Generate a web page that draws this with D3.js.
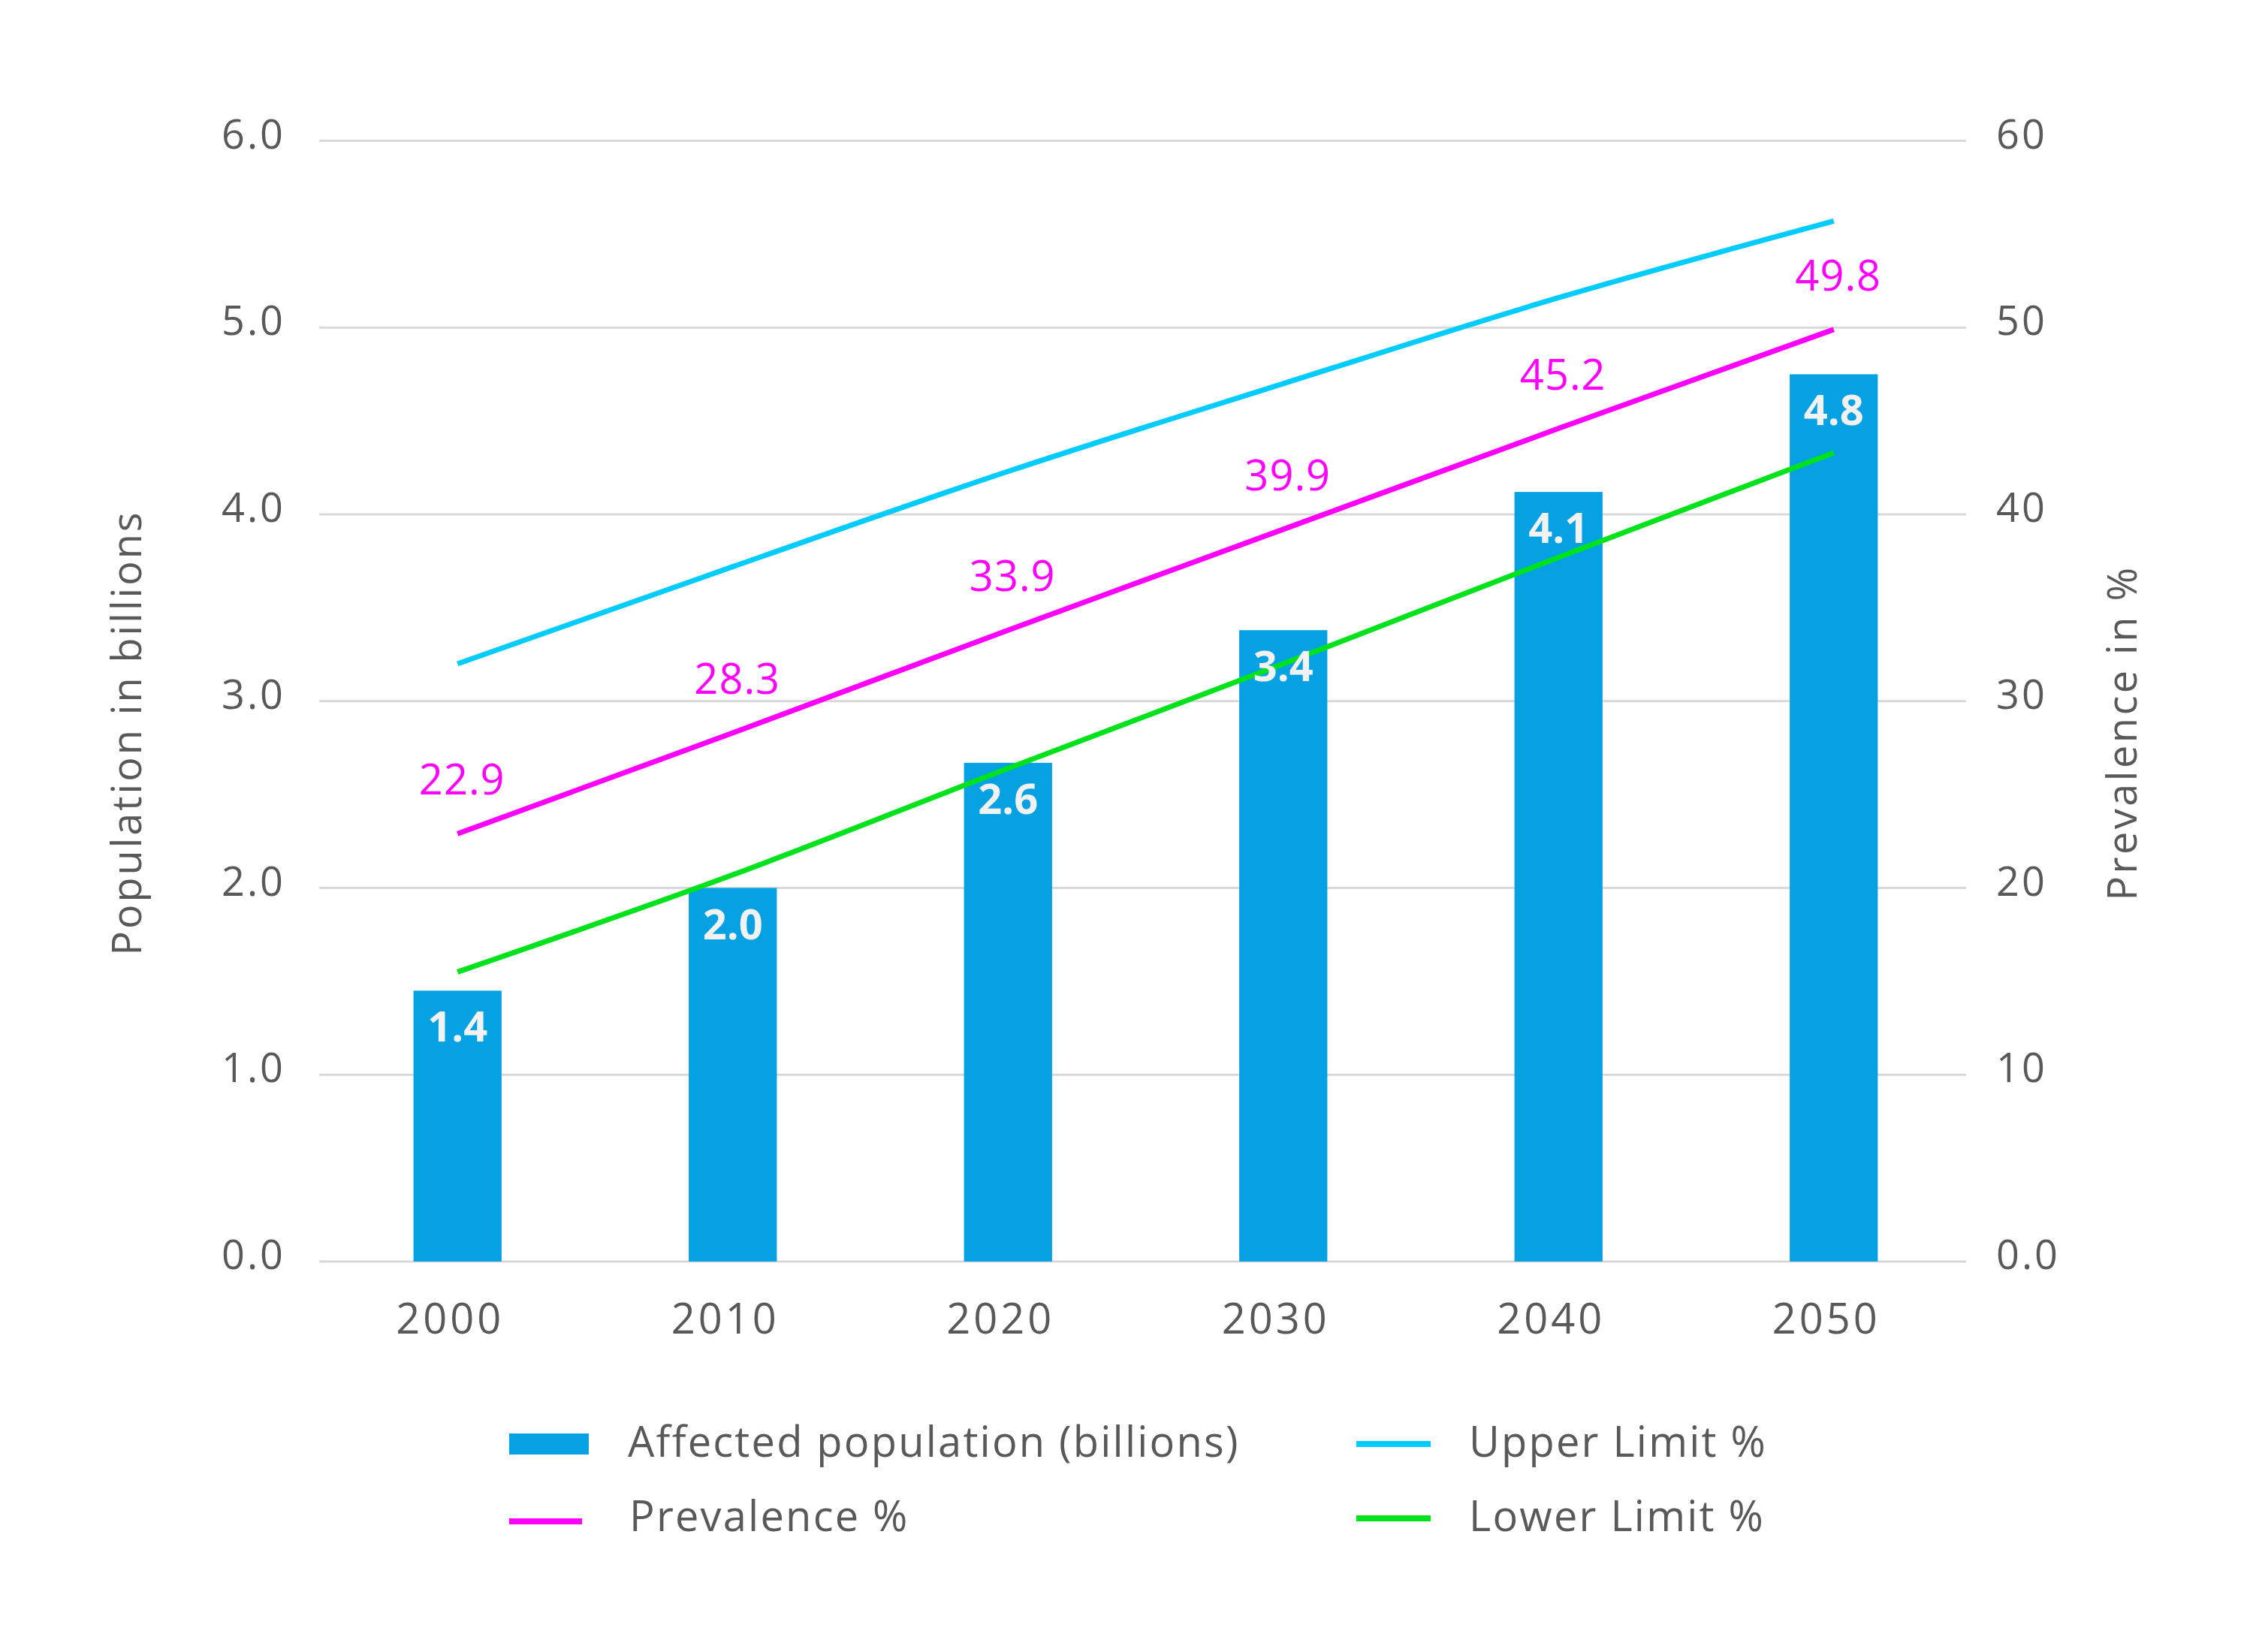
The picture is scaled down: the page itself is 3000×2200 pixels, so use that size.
<!DOCTYPE html>
<html>
<head>
<meta charset="utf-8">
<script src="https://cdn.jsdelivr.net/npm/d3@7"></script>
<style>
  html, body { margin: 0; padding: 0; background: #ffffff; }
  svg { display: block; }
  text { font-family: "Open Sans", "Noto Sans", sans-serif; }
</style>
</head>
<body>
<svg id="chart" width="3000" height="2200"></svg>
<script>
// ---- data ----
const years = ["2000", "2010", "2020", "2030", "2040", "2050"];
const affected = [1.45, 2.0, 2.67, 3.38, 4.12, 4.75];
const affectedLabels = ["1.4", "2.0", "2.6", "3.4", "4.1", "4.8"];
const prevalence = [22.9, 28.3, 33.8, 39.2, 44.6, 49.9];
const prevalenceLabels = ["22.9", "28.3", "33.9", "39.9", "45.2", "49.8"];
const upperLimit = [32.0, 37.2, 42.3, 47.0, 51.6, 55.7];
const lowerLimit = [15.5, 20.7, 26.4, 32.0, 37.7, 43.3];
const leftTicks = [0, 1, 2, 3, 4, 5, 6];
const leftTickLabels = ["0.0", "1.0", "2.0", "3.0", "4.0", "5.0", "6.0"];
const rightTicks = [0, 10, 20, 30, 40, 50, 60];
const rightTickLabels = ["0.0", "10", "20", "30", "40", "50", "60"];
const legendItems = [
  { name: "Affected population (billions)", type: "bar", color: "#05A1E3" },
  { name: "Upper Limit %", type: "line", color: "#00CCFF" },
  { name: "Prevalence %", type: "line", color: "#FF00FF" },
  { name: "Lower Limit %", type: "line", color: "#00E31C" }
];

// ---- layout ----
const plot = { left: 425, right: 2618, top: 187.5, bottom: 1680 };
const textColor = "#595959";
const gridColor = "#D9D9D9";
const barColor = "#05A1E3";
const upperColor = "#00CCFF";
const prevColor = "#FF00FF";
const lowerColor = "#00E31C";

const svg = d3.select("#chart");
svg.append("rect").attr("width", 3000).attr("height", 2200).attr("fill", "#ffffff");

const x = d3.scaleBand().domain(years).range([426, 2625])
  .paddingInner(0.68).paddingOuter(0.34);
const yL = d3.scaleLinear().domain([0, 6]).range([plot.bottom, plot.top]);
const yR = d3.scaleLinear().domain([0, 60]).range([plot.bottom, plot.top]);
const cx = d => x(d) + x.bandwidth() / 2;

// gridlines
svg.append("g").selectAll("line").data(leftTicks).join("line")
  .attr("x1", plot.left).attr("x2", plot.right)
  .attr("y1", d => yL(d)).attr("y2", d => yL(d))
  .attr("stroke", gridColor).attr("stroke-width", 3);

// left axis labels
const gLeft = svg.append("g").attr("transform", `translate(295,0)`);
const axL = d3.axisLeft(yL).tickValues(leftTicks).tickSize(0)
  .tickFormat((d, i) => leftTickLabels[i]);
gLeft.call(axL);
gLeft.select(".domain").remove();
gLeft.selectAll("text").attr("text-anchor", "start").attr("x", 0).attr("dy", "0.18em")
  .attr("fill", textColor).style("font-size", "54px").style("letter-spacing", "3px")
  .style("font-family", '"Open Sans", sans-serif');

// right axis labels
const gRight = svg.append("g").attr("transform", `translate(2658,0)`);
const axR = d3.axisRight(yR).tickValues(rightTicks).tickSize(0)
  .tickFormat(d => rightTickLabels[rightTicks.indexOf(d)]);
gRight.call(axR);
gRight.select(".domain").remove();
gRight.selectAll("text").attr("text-anchor", "start").attr("x", 0).attr("dy", "0.18em")
  .attr("fill", textColor).style("font-size", "54px").style("letter-spacing", "3px")
  .style("font-family", '"Open Sans", sans-serif');

// x axis labels
const gX = svg.append("g").attr("transform", `translate(0,1776)`);
const axX = d3.axisBottom(x).tickSize(0);
gX.call(axX);
gX.select(".domain").remove();
gX.selectAll("text").attr("y", 0).attr("dy", 0).attr("dx", -10)
  .attr("fill", textColor).style("font-size", "56px").style("letter-spacing", "4px")
  .style("font-family", '"Open Sans", sans-serif');

// bars
svg.append("g").selectAll("rect").data(years).join("rect")
  .attr("x", d => x(d)).attr("width", x.bandwidth())
  .attr("y", (d, i) => yL(affected[i]))
  .attr("height", (d, i) => yL(0) - yL(affected[i]))
  .attr("fill", barColor);

// lines
const line = d3.line().x(d => cx(d.year)).y(d => yR(d.v)).curve(d3.curveMonotoneX);
function series(arr) { return years.map((yr, i) => ({ year: yr, v: arr[i] })); }
[[upperLimit, upperColor], [prevalence, prevColor], [lowerLimit, lowerColor]].forEach(([arr, col]) => {
  svg.append("path").datum(series(arr)).attr("d", line)
    .attr("fill", "none").attr("stroke", col).attr("stroke-width", 7)
    .attr("stroke-linecap", "butt");
});

// bar labels
svg.append("g").selectAll("text").data(years).join("text")
  .attr("x", d => cx(d)).attr("y", (d, i) => yL(affected[i]) + 68)
  .attr("text-anchor", "middle").attr("fill", "#F2F2F2")
  .style("font-size", "56px").style("font-weight", "700")
  .text((d, i) => affectedLabels[i]);

// prevalence labels
svg.append("g").selectAll("text").data(years).join("text")
  .attr("x", d => cx(d) + 6).attr("y", (d, i) => yR(prevalence[i]) - 52)
  .attr("text-anchor", "middle").attr("fill", prevColor)
  .style("font-size", "56px").style("letter-spacing", "1px")
  .text((d, i) => prevalenceLabels[i]);

// axis titles
svg.append("text").attr("transform", "translate(188,976) rotate(-90)")
  .attr("text-anchor", "middle").attr("fill", textColor).style("font-size", "54px")
  .style("letter-spacing", "3px")
  .text("Population in billions");
svg.append("text").attr("transform", "translate(2845,976) rotate(-90)")
  .attr("text-anchor", "middle").attr("fill", textColor).style("font-size", "54px")
  .style("letter-spacing", "3.5px")
  .text("Prevalence in %");

// legend
const legendPos = [
  { sx: 678, tx: 836, y: 1923 },
  { sx: 1806, tx: 1956, y: 1923 },
  { sx: 678, tx: 838, y: 2022 },
  { sx: 1806, tx: 1956, y: 2022 }
];
const lg = svg.append("g");
legendItems.forEach((it, i) => {
  const p = legendPos[i];
  if (it.type === "bar") {
    lg.append("rect").attr("x", p.sx).attr("y", p.y - 14).attr("width", 106).attr("height", 28).attr("fill", it.color);
  } else {
    lg.append("rect").attr("x", p.sx).attr("y", p.y - 4 + (i === 2 ? 4 : 0)).attr("width", i === 2 ? 97 : 99).attr("height", 8).attr("fill", it.color);
  }
  lg.append("text").attr("x", p.tx).attr("y", p.y + 17).attr("fill", textColor)
    .style("font-size", "56px").style("letter-spacing", "2.2px").text(it.name);
});
</script>
</body>
</html>
